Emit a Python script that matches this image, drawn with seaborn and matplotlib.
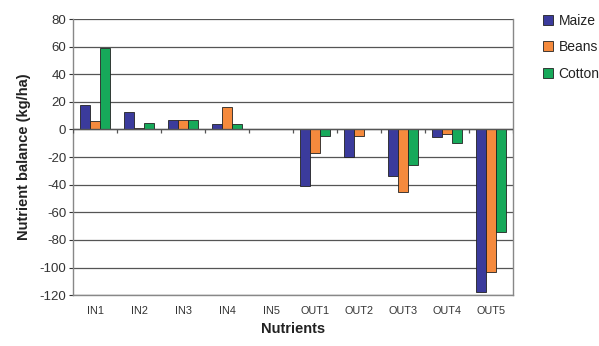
import matplotlib
matplotlib.use("Agg")
import matplotlib.pyplot as plt
import seaborn as sns
import pandas as pd

categories = ["IN1", "IN2", "IN3", "IN4", "IN5", "OUT1", "OUT2", "OUT3", "OUT4", "OUT5"]
maize = [18, 13, 7, 4, 0, -41, -20, -34, -5.5, -118]
beans = [6, 1, 7, 16, 0, -17, -4.5, -45, -3, -103]
cotton = [59, 5, 7, 4, 0, -4.5, 0, -26, -10, -74]
series_names = ["Maize", "Beans", "Cotton"]
colors = ["#3b3b9c", "#f58a3d", "#17a95a"]
yticks = [80, 60, 40, 20, 0, -20, -40, -60, -80, -100, -120]

rows = []
for name, vals in zip(series_names, [maize, beans, cotton]):
    for c, v in zip(categories, vals):
        rows.append({"Nutrient": c, "Crop": name, "Value": v})
df = pd.DataFrame(rows)

sns.set_theme(style="white")
plt.rcParams["font.family"] = ["Liberation Sans", "DejaVu Sans"]
plt.rcParams["axes.unicode_minus"] = False

fig = plt.figure(figsize=(5.99, 3.46), dpi=100)
ax = fig.add_axes([0.122, 0.147, 0.735, 0.798])

sns.barplot(data=df, x="Nutrient", y="Value", hue="Crop", order=categories,
            hue_order=series_names, palette=colors, width=0.68, saturation=1,
            edgecolor="#222222", linewidth=0.6, ax=ax, zorder=3, legend=True)

ax.set_ylim(-120, 80)
ax.set_yticks(yticks)
ax.set_xlim(-0.5, len(categories) - 0.5)
ax.yaxis.grid(True, color="#555555", linewidth=0.9, zorder=0)
ax.set_axisbelow(True)
for s in ax.spines.values():
    s.set_color("#888888")
    s.set_linewidth(1.0)
ax.spines["top"].set_visible(False)

# category axis line at zero with tick marks between categories
ax.axhline(0, color="#555555", linewidth=1.0, zorder=4)
for i in range(len(categories) + 1):
    ax.plot([i - 0.5, i - 0.5], [0, -2.5], color="#555555", linewidth=0.9, zorder=4,
            solid_capstyle="butt")

ax.tick_params(axis="y", labelsize=9.5, colors="#333333", left=True, length=3, width=0.8, pad=2)
ax.tick_params(axis="x", labelsize=7.8, colors="#333333", bottom=False, pad=2)
ax.set_xlabel("Nutrients", fontsize=10.5, fontweight="bold", color="#222222", labelpad=4)
ax.set_ylabel("Nutrient balance (kg/ha)", fontsize=10.5, fontweight="bold", color="#222222", labelpad=6)

leg = ax.legend(loc="upper left", bbox_to_anchor=(1.055, 1.04), frameon=False,
                fontsize=10, handlelength=0.7, handleheight=0.7, handletextpad=0.4,
                labelspacing=0.9, borderaxespad=0)
for t in leg.get_texts():
    t.set_color("#222222")

fig.savefig("out.png", dpi=100)
